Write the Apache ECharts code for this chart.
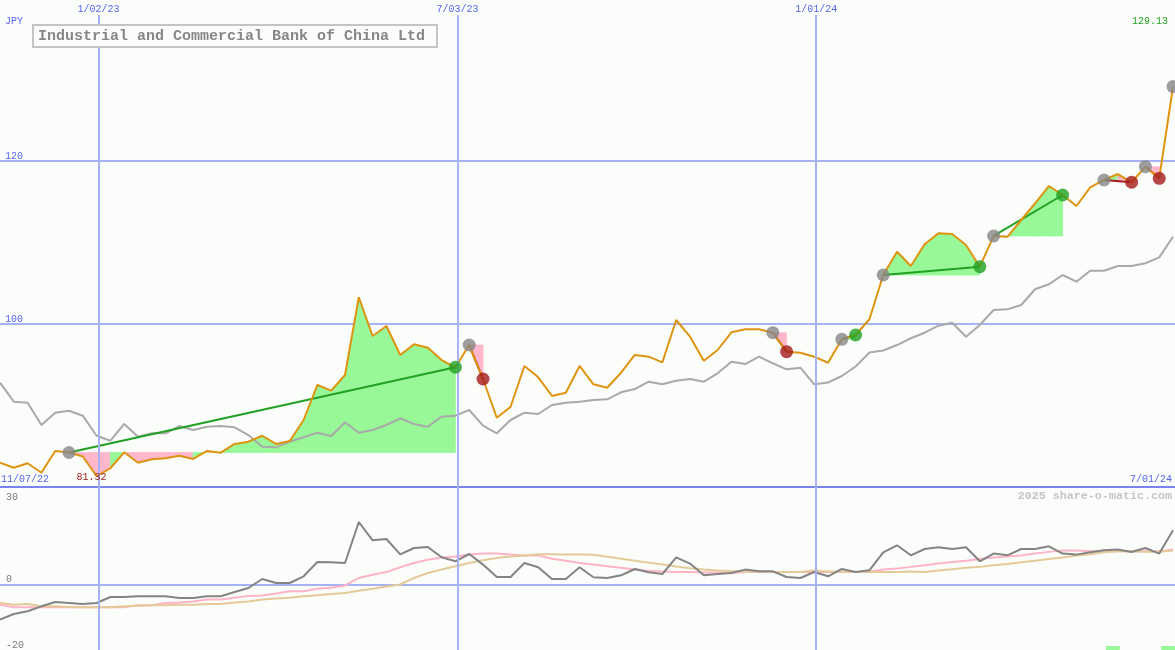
<!DOCTYPE html>
<html>
<head>
<meta charset="utf-8">
<script src="https://cdn.jsdelivr.net/npm/echarts@6/dist/echarts.min.js"></script>
<style>
html,body{margin:0;padding:0;background:#fbfdfb;}
#chart{width:1175px;height:650px;}
</style>
</head>
<body>
<div id="chart"></div>
<script>
// ---------------- data ----------------
const startWeek = '2022-11-13';   // first weekly close shown (week ending Sunday)
const axisEnd = '2024-07-01';
const price = [
  82.98, 82.37, 82.91, 81.75, 84.42, 84.23, 83.74, 81.32, 82.30, 84.26,
  82.98, 83.40, 83.52, 83.84, 83.44, 84.42, 84.21, 85.28, 85.56, 86.29,
  85.28, 85.64, 88.22, 92.52, 91.82, 93.74, 103.28, 98.53, 99.75, 96.20,
  97.51, 97.09, 95.58, 94.69, 97.42, 93.25, 88.50, 89.85, 94.85, 93.46,
  91.17, 91.57, 94.85, 92.60, 92.18, 94.02, 96.20, 95.99, 95.30, 100.49,
  98.44, 95.50, 96.81, 98.98, 99.35, 99.35, 98.93, 96.60, 96.48, 95.99,
  95.25, 98.12, 98.65, 100.58, 106.01, 108.87, 107.12, 109.78, 111.13, 111.04,
  109.69, 107.03, 110.80, 110.70, 112.76, 114.81, 116.93, 115.83, 114.48, 116.77,
  117.67, 118.40, 117.39, 119.30, 117.87, 129.13
];
const relative = [
  92.80, 90.47, 90.34, 87.61, 89.12, 89.36, 88.75, 86.29, 85.68, 87.73,
  86.17, 86.59, 86.59, 87.48, 86.99, 87.40, 87.48, 87.33, 86.38, 84.94,
  84.87, 85.56, 86.10, 86.66, 86.26, 87.94, 86.66, 86.99, 87.61, 88.43,
  87.73, 87.40, 88.63, 88.75, 89.45, 87.52, 86.59, 88.22, 89.12, 88.96,
  90.06, 90.34, 90.47, 90.67, 90.76, 91.62, 92.02, 92.92, 92.60, 93.04,
  93.25, 92.92, 93.95, 95.37, 95.09, 95.99, 95.18, 94.44, 94.64, 92.60,
  92.82, 93.62, 94.79, 96.50, 96.75, 97.42, 98.25, 98.93, 99.79, 100.16,
  98.44, 99.88, 101.72, 101.80, 102.33, 104.26, 104.87, 106.01, 105.19, 106.54,
  106.54, 107.12, 107.12, 107.45, 108.18, 110.71
];
const momentum = [
  -10.70, -8.96, -8.13, -6.60, -5.28, -5.58, -5.89, -5.58, -3.74, -3.74,
  -3.53, -3.53, -3.53, -4.05, -4.05, -3.53, -3.53, -2.21, -0.98, 1.78,
  0.55, 0.55, 2.61, 6.99, 6.90, 6.69, 19.26, 13.65, 14.05, 9.35,
  11.29, 11.60, 8.44, 7.21, 9.45, 6.20, 2.39, 2.39, 6.69, 5.37,
  1.78, 1.78, 5.37, 2.30, 2.09, 2.91, 4.85, 3.83, 3.31, 8.44,
  6.50, 2.91, 3.31, 3.62, 4.66, 4.14, 4.14, 2.39, 2.09, 3.93,
  2.61, 4.85, 3.93, 4.45, 9.97, 12.12, 9.05, 10.98, 11.50, 10.98,
  11.50, 7.21, 9.57, 9.05, 10.98, 10.98, 11.81, 9.57, 9.26, 9.97,
  10.58, 10.80, 10.06, 11.29, 9.57, 16.72
];
const momentumFast = [
  -6.1, -6.9, -6.9, -6.9, -6.9, -6.9, -6.9, -6.9, -6.9, -6.9,
  -6.3, -6.3, -5.6, -5.4, -5.1, -4.5, -4.5, -4.0, -3.4, -3.3,
  -2.7, -2.0, -2.0, -1.2, -0.9, -0.2, 2.1, 3.1, 3.9, 5.4,
  6.7, 7.7, 8.4, 8.7, 9.3, 9.6, 9.6, 9.3, 9.0, 9.0,
  8.0, 7.4, 6.7, 6.2, 5.7, 5.2, 4.7, 4.3, 4.1, 3.9,
  3.9, 3.8, 3.8, 3.6, 3.9, 3.9, 3.9, 3.9, 3.9, 3.9,
  3.9, 3.9, 3.9, 4.0, 4.7, 5.0, 5.5, 6.0, 6.5, 7.0,
  7.4, 7.9, 8.4, 8.7, 9.0, 9.6, 10.1, 10.5, 10.5, 10.3,
  10.3, 10.3, 10.3, 10.3, 10.3, 10.8
];
const momentumSlow = [
  -5.6, -6.1, -5.9, -6.6, -6.6, -6.8, -6.9, -6.9, -6.9, -6.6,
  -6.4, -6.3, -6.3, -6.1, -6.1, -5.9, -5.9, -5.4, -5.1, -4.5,
  -4.2, -4.0, -3.5, -3.2, -2.8, -2.5, -1.8, -1.2, -0.5, 0.1,
  2.1, 3.6, 4.7, 5.7, 6.7, 7.5, 8.2, 8.7, 9.0, 9.4,
  9.4, 9.3, 9.3, 9.2, 8.6, 8.0, 7.4, 6.8, 6.2, 5.6,
  5.1, 4.7, 4.4, 4.2, 4.1, 4.1, 3.9, 3.9, 3.9, 4.4,
  4.1, 4.1, 3.9, 3.9, 3.9, 3.9, 4.1, 3.9, 4.4, 4.8,
  5.2, 5.5, 6.0, 6.4, 6.9, 7.4, 7.9, 8.4, 9.0, 9.4,
  10.0, 10.3, 10.3, 10.1, 10.1, 10.5
];
const tradeEntries = ['2022-12-18','2023-07-09','2023-12-10','2024-01-14','2024-02-04','2024-03-31','2024-05-26','2024-06-16','2024-06-30'];
const tradeExits   = ['2023-07-02','2023-07-16','2023-12-17','2024-01-21','2024-03-24','2024-05-05','2024-06-09','2024-06-23'];
const signalPeriods = [['2024-05-27','2024-06-03'], ['2024-06-24','2024-07-01']];
const gridDates  = ['2023-01-02','2023-07-03','2024-01-01'];
const gridLabels = ['1/02/23','7/03/23','1/01/24'];
const titleText = 'Industrial and Commercial Bank of China Ltd';
const currencyLabel = 'JPY';
const rangeStartLabel = '11/07/22';
const rangeEndLabel = '7/01/24';
const creditText = '2025 share-o-matic.com';

// ---------------- helpers ----------------
const MONO = '"Liberation Mono", "DejaVu Sans Mono", monospace';
const BLUE = '#5464ee';
const GRID = '#a6b2f4';
const GREEN_FILL = '#98f898';
const PINK_FILL = '#ffb8cb';
const WIN = '#22a022';
const LOSS = '#a41a1a';
const toTime = s => { const p = s.split('-').map(Number); return new Date(p[0], p[1]-1, p[2]).getTime(); };
const sw = startWeek.split('-').map(Number);
const dates = price.map((_, i) => new Date(sw[0], sw[1]-1, sw[2] + 7*i).getTime());
const xMin = dates[0], xMax = toTime(axisEnd);
const idxOf = s => dates.indexOf(toTime(s));
const pair = arr => dates.map((d, i) => [d, arr[i]]);

const closedTrades = tradeExits.map((ex, i) => {
  const a = idxOf(tradeEntries[i]), b = idxOf(ex);
  return { a, b, win: price[b] >= price[a] };
});

// ---------------- chart ----------------
const chart = echarts.init(document.getElementById('chart'), null, {renderer: 'canvas'});

const timeAxis = (gi, extra) => Object.assign({
  type: 'time', gridIndex: gi, min: xMin, max: xMax,
  axisLabel: {show: false}, axisTick: {show: false}, splitLine: {show: false}
}, extra);

const option = {
  backgroundColor: '#fbfdfb',
  animation: false,
  grid: [
    {left: 0, right: 0, top: 15, height: 472},
    {left: 0, right: 0, top: 487, height: 163},
    {left: 0, right: 0, top: 646, height: 4}
  ],
  xAxis: [
    timeAxis(0, {axisLine: {show: true, onZero: false, lineStyle: {color: '#7884ec', width: 2}}}),
    timeAxis(1, {axisLine: {show: true, onZero: true, lineStyle: {color: GRID, width: 2}}}),
    timeAxis(2, {axisLine: {show: false}})
  ],
  yAxis: [
    {
      type: 'value', gridIndex: 0, min: 80, max: 137.914, interval: 20,
      axisLine: {show: false}, axisTick: {show: false},
      splitLine: {show: true, lineStyle: {color: [GRID, GRID, GRID, 'rgba(0,0,0,0)'], width: 2}},
      axisLabel: {inside: true, margin: 5, verticalAlign: 'bottom', color: BLUE,
        fontFamily: MONO, fontSize: 10, showMinLabel: false, showMaxLabel: false,
        formatter: v => String(Math.round(v))}
    },
    {
      type: 'value', gridIndex: 1, min: -20, max: 30, interval: 10,
      axisLine: {show: false}, axisTick: {show: false}, splitLine: {show: false},
      axisLabel: {inside: true, margin: 6, verticalAlign: 'bottom', verticalAlignMaxLabel: 'top',
        color: '#7a7a7a', fontFamily: MONO, fontSize: 10,
        formatter: v => v === 30 ? '{t|30}' : ((v === 0 || v === -20) ? String(v) : ''),
        rich: {t: {padding: [5, 0, 0, 0], color: '#7a7a7a', fontFamily: MONO, fontSize: 10}}}
    },
    {type: 'value', gridIndex: 2, min: 0, max: 1, show: false}
  ],
  series: [
    // date gridlines, main panel
    {
      type: 'line', xAxisIndex: 0, yAxisIndex: 0, data: [], z: 0, silent: true,
      markLine: {
        silent: true, symbol: ['none', 'none'], animation: false,
        lineStyle: {color: GRID, width: 2, type: 'solid'},
        label: {show: true, position: 'end', distance: 1, formatter: p => p.name,
          color: BLUE, fontFamily: MONO, fontSize: 10},
        data: gridDates.map((d, i) => ({name: gridLabels[i], xAxis: toTime(d)}))
      }
    },
    // date gridlines, lower panel
    {
      type: 'line', xAxisIndex: 1, yAxisIndex: 1, data: [], z: 0, silent: true,
      markLine: {
        silent: true, symbol: ['none', 'none'], animation: false,
        lineStyle: {color: GRID, width: 2, type: 'solid'},
        label: {show: false},
        data: gridDates.map(d => ({xAxis: toTime(d)}))
      }
    },
    // trade fills
    {
      type: 'custom', xAxisIndex: 0, yAxisIndex: 0, z: 1, silent: true,
      data: closedTrades.map(t => [dates[t.a], price[t.a], dates[t.b], price[t.b]]),
      encode: {x: [0, 2], y: [1, 3]},
      renderItem: (params, api) => {
        const t = closedTrades[params.dataIndex];
        const base = api.coord([dates[t.a], price[t.a]])[1];
        const children = [];
        for (let j = t.a; j < t.b; j++) {
          const p1 = api.coord([dates[j], price[j]]);
          const p2 = api.coord([dates[j+1], price[j+1]]);
          const col = price[j+1] >= price[t.a] ? GREEN_FILL : PINK_FILL;
          children.push({
            type: 'polygon',
            shape: {points: [[p1[0], base], p1, p2, [p2[0], base]]},
            style: {fill: col, stroke: col, lineWidth: 0.8}
          });
        }
        return {type: 'group', children};
      }
    },
    {
      name: 'relative', type: 'line', xAxisIndex: 0, yAxisIndex: 0, z: 2,
      data: pair(relative), showSymbol: false, silent: true,
      lineStyle: {color: '#a9a9a9', width: 2}
    },
    {
      name: 'trade lines', type: 'lines', coordinateSystem: 'cartesian2d',
      xAxisIndex: 0, yAxisIndex: 0, z: 3, silent: true,
      lineStyle: {width: 2, opacity: 1, curveness: 0},
      data: closedTrades.map(t => ({
        coords: [[dates[t.a], price[t.a]], [dates[t.b], price[t.b]]],
        lineStyle: {color: t.win ? WIN : LOSS}
      }))
    },
    {
      name: 'price', type: 'line', xAxisIndex: 0, yAxisIndex: 0, z: 4,
      data: pair(price), showSymbol: false, silent: true,
      lineStyle: {color: '#de9410', width: 2},
      markPoint: {
        symbol: 'circle', symbolSize: 1, silent: true,
        itemStyle: {color: 'rgba(0,0,0,0)'},
        label: {show: true, position: 'inside', offset: [-5, 1], color: '#a02020',
          fontFamily: MONO, fontSize: 10, formatter: p => Number(p.value).toFixed(2)},
        data: [{type: 'min'}]
      }
    },
    {
      name: 'signals', type: 'scatter', xAxisIndex: 0, yAxisIndex: 0, z: 5, silent: true,
      symbolSize: 13,
      data: [].concat(
        tradeEntries.map(s => ({value: [toTime(s), price[idxOf(s)]], itemStyle: {color: '#868686'}})),
        closedTrades.map(t => ({value: [dates[t.b], price[t.b]], itemStyle: {color: t.win ? WIN : LOSS}}))
      )
    },
    {
      name: 'fast', type: 'line', xAxisIndex: 1, yAxisIndex: 1, z: 2,
      data: pair(momentumFast), showSymbol: false, silent: true,
      lineStyle: {color: '#ffb4c6', width: 2}
    },
    {
      name: 'slow', type: 'line', xAxisIndex: 1, yAxisIndex: 1, z: 2,
      data: pair(momentumSlow), showSymbol: false, silent: true,
      lineStyle: {color: '#e4ca98', width: 2}
    },
    {
      name: 'momentum', type: 'line', xAxisIndex: 1, yAxisIndex: 1, z: 3,
      data: pair(momentum), showSymbol: false, silent: true,
      lineStyle: {color: '#848484', width: 2}
    },
    {
      type: 'line', xAxisIndex: 2, yAxisIndex: 2, data: [], silent: true,
      markArea: {
        silent: true, itemStyle: {color: GREEN_FILL, opacity: 1},
        data: signalPeriods.map(p => [{xAxis: toTime(p[0])}, {xAxis: toTime(p[1])}])
      }
    }
  ],
  graphic: [
    {type: 'rect', shape: {x: 33, y: 25, width: 404, height: 22},
      style: {fill: '#fbfdfb', stroke: '#c4c4c4', lineWidth: 2}, z: 100},
    {type: 'text', x: 38, y: 36.5, z: 101,
      style: {text: titleText, font: 'bold 15px ' + MONO, fill: '#868686', verticalAlign: 'middle'}},
    {type: 'text', x: 5, y: 21, z: 101,
      style: {text: currencyLabel, font: '10px ' + MONO, fill: BLUE, verticalAlign: 'middle'}},
    {type: 'text', x: 1168, y: 21, z: 101,
      style: {text: price[price.length-1].toFixed(2), font: '10px ' + MONO, fill: WIN,
        align: 'right', verticalAlign: 'middle'}},
    {type: 'text', x: 1, y: 479, z: 101,
      style: {text: rangeStartLabel, font: '10px ' + MONO, fill: BLUE, verticalAlign: 'middle'}},
    {type: 'text', x: 1172, y: 479, z: 101,
      style: {text: rangeEndLabel, font: '10px ' + MONO, fill: BLUE, align: 'right', verticalAlign: 'middle'}},
    {type: 'text', x: 1172, y: 496, z: 101,
      style: {text: creditText, font: 'bold 11.7px ' + MONO, fill: '#c4c4c4', align: 'right', verticalAlign: 'middle'}}
  ]
};
chart.setOption(option);
</script>
</body>
</html>
